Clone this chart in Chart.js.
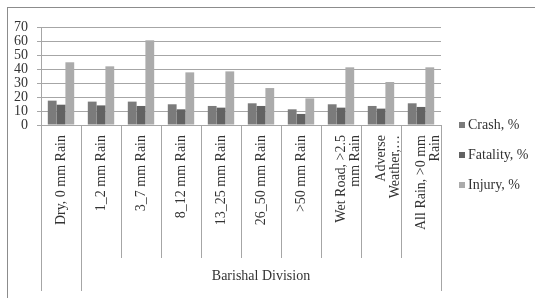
<!DOCTYPE html>
<html>
<head>
<meta charset="utf-8">
<script src="https://cdn.jsdelivr.net/npm/chart.js@4.4.1/dist/chart.umd.min.js"></script>
<style>
  html, body { margin: 0; padding: 0; background: #fff; }
  #wrap { width: 535px; height: 298px; position: relative; }
</style>
</head>
<body>
<div id="wrap"><canvas id="myChart" width="535" height="298"></canvas></div>
<script>
const categories = [
    'Dry, 0 mm Rain',
    '1_2 mm Rain',
    '3_7 mm Rain',
    '8_12 mm Rain',
    '13_25 mm Rain',
    '26_50 mm Rain',
    '>50 mm Rain',
    ['Wet Road, >2.5', 'mm Rain'],
    ['Adverse', 'Weather,…'],
    ['All Rain, >0 mm', 'Rain'],
];
const crash = [17.4, 16.7, 16.7, 14.8, 13.6, 15.5, 11.2, 14.8, 13.6, 15.5];
const fatality = [14.5, 14.0, 13.6, 11.2, 12.4, 13.6, 7.9, 12.4, 11.7, 12.9];
const injury = [44.8, 41.9, 60.5, 37.6, 38.3, 26.4, 19.0, 41.2, 30.7, 41.2];
const seriesNames = ['Crash, %', 'Fatality, %', 'Injury, %'];
// second level of the category axis: label and first/last category index
const groupLabels = ['', 'Barishal Division'];
const groupFirst = [0, 1];
const groupLast = [0, 9];
const yMax = 70;
const yStep = 10;

const serif = "'Liberation Serif', 'Times New Roman', serif";
const lineColor = '#a6a6a6';
const textColor = '#333333';

// frame, category separators, group labels and legend
const axisExtras = {
    id: 'axisExtras',
    beforeDraw(chart) {
        const ctx = chart.ctx;
        ctx.save();
        ctx.strokeStyle = '#8c8c8c';
        ctx.lineWidth = 1;
        ctx.strokeRect(7.5, 7.5, 540, 300);
        ctx.restore();
    },
    afterDraw(chart) {
        const ctx = chart.ctx;
        const x = chart.scales.x;
        const area = chart.chartArea;
        const half = (x.getPixelForTick(1) - x.getPixelForTick(0)) / 2;
        const innerBottom = 258;
        const outerBottom = 291;

        ctx.save();
        ctx.strokeStyle = lineColor;
        ctx.lineWidth = 1;
        const starts = new Set(groupFirst);
        for (let i = 0; i <= categories.length; i++) {
            const px = Math.round(i < categories.length ? x.getPixelForTick(i) - half : x.getPixelForTick(i - 1) + half) + 0.5;
            const bottom = (starts.has(i) || i === categories.length) ? outerBottom : innerBottom;
            ctx.beginPath();
            ctx.moveTo(px, area.bottom);
            ctx.lineTo(px, bottom);
            ctx.stroke();
        }

        ctx.fillStyle = textColor;
        ctx.font = '14px ' + serif;
        ctx.textAlign = 'center';
        ctx.textBaseline = 'middle';
        groupLabels.forEach((label, g) => {
            const left = x.getPixelForTick(groupFirst[g]) - half;
            const right = x.getPixelForTick(groupLast[g]) + half;
            ctx.fillText(label, (left + right) / 2, 276);
        });

        // legend
        const legendY = [125, 155, 185];
        ctx.textAlign = 'left';
        chart.data.datasets.forEach((ds, i) => {
            ctx.fillStyle = ds.backgroundColor;
            ctx.fillRect(459, legendY[i] - 3, 6, 6);
            ctx.fillStyle = textColor;
            ctx.fillText(ds.label, 468, legendY[i]);
        });
        ctx.restore();
    }
};

const ctx = document.getElementById('myChart').getContext('2d');
window.myChart = new Chart(ctx, {
    type: 'bar',
    data: {
        labels: categories,
        datasets: [
            { label: seriesNames[0], data: crash, backgroundColor: '#7b7b7b' },
            { label: seriesNames[1], data: fatality, backgroundColor: '#626262' },
            { label: seriesNames[2], data: injury, backgroundColor: '#ababab' },
        ],
    },
    options: {
        responsive: false,
        animation: false,
        events: [],
        layout: { padding: { left: 0, top: 27, right: 94, bottom: 0 } },
        datasets: {
            bar: { categoryPercentage: 0.66, barPercentage: 1.0, borderWidth: 0 },
        },
        plugins: {
            legend: { display: false },
            tooltip: { enabled: false },
        },
        scales: {
            x: {
                grid: { display: false, drawTicks: false },
                border: { display: true, color: lineColor, width: 1 },
                afterFit: (scale) => { scale.height = 173; },
                ticks: {
                    autoSkip: false,
                    minRotation: 90,
                    maxRotation: 90,
                    padding: 10,
                    color: textColor,
                    font: { family: serif, size: 14, lineHeight: 1.05 },
                },
            },
            y: {
                min: 0,
                max: yMax,
                afterFit: (scale) => { scale.width = 41; },
                grid: { color: lineColor, lineWidth: 1, tickLength: 4 },
                border: { display: true, color: lineColor, width: 1 },
                ticks: {
                    stepSize: yStep,
                    autoSkip: false,
                    padding: 9,
                    color: textColor,
                    font: { family: serif, size: 14, lineHeight: 1.0 },
                },
            },
        },
    },
    plugins: [axisExtras],
});
</script>
</body>
</html>
